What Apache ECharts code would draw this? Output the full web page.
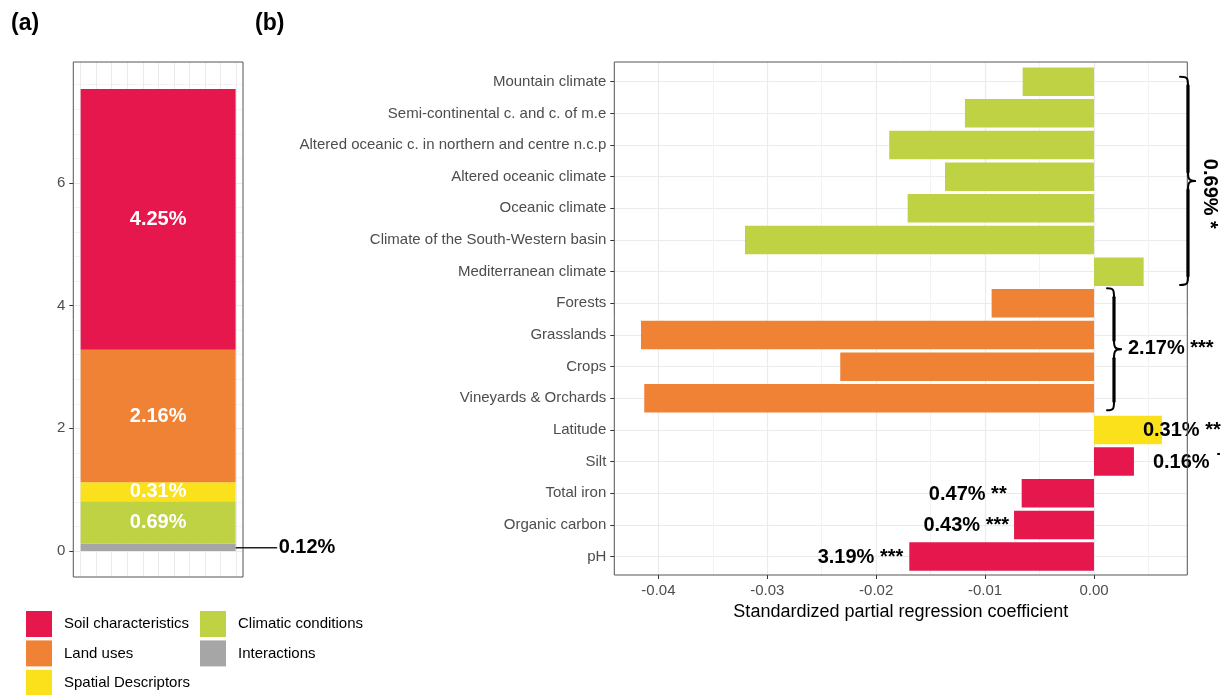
<!DOCTYPE html>
<html><head><meta charset="utf-8">
<script src="https://cdn.jsdelivr.net/npm/echarts@6/dist/echarts.min.js"></script>
<style>html,body{margin:0;padding:0;background:#fff}#c{width:1226px;height:695px}</style>
</head><body><div id="c"></div>
<script>
// ---------- Panel (a): variance partitioning (stack, bottom to top) ----------
const aGroups = ['Interactions', 'Climatic conditions', 'Spatial Descriptors', 'Land uses', 'Soil characteristics'];
const aValues = [0.12, 0.69, 0.31, 2.16, 4.25];
const aYTicks = [0, 2, 4, 6];

// ---------- Panel (b): standardized partial regression coefficients ----------
const bCats = ['Mountain climate', 'Semi-continental c. and c. of m.e', 'Altered oceanic c. in northern and centre n.c.p',
  'Altered oceanic climate', 'Oceanic climate', 'Climate of the South-Western basin', 'Mediterranean climate',
  'Forests', 'Grasslands', 'Crops', 'Vineyards & Orchards', 'Latitude', 'Silt', 'Total iron', 'Organic carbon', 'pH'];
const bCoef = [-0.00655, -0.01185, -0.0188, -0.01368, -0.01711, -0.03205, 0.00456,
  -0.0094, -0.0416, -0.0233, -0.0413, 0.00624, 0.00367, -0.00664, -0.00734, -0.01696];
const bGroup = ['Climatic conditions', 'Climatic conditions', 'Climatic conditions', 'Climatic conditions',
  'Climatic conditions', 'Climatic conditions', 'Climatic conditions',
  'Land uses', 'Land uses', 'Land uses', 'Land uses', 'Spatial Descriptors',
  'Soil characteristics', 'Soil characteristics', 'Soil characteristics', 'Soil characteristics'];
const bLabels = ['', '', '', '', '', '', '', '', '', '', '', '0.31% **', '0.16% \u02D9', '0.47% **', '0.43% ***', '3.19% ***'];
const bGroupLabels = [{ from: 0, to: 6, text: '0.69% *' }, { from: 7, to: 10, text: '2.17% ***' }];
const xTicks = [-0.04, -0.03, -0.02, -0.01, 0.00];

// ---------- styling / layout ----------
const colors = {
  'Soil characteristics': '#E6174C', 'Land uses': '#EF8235', 'Spatial Descriptors': '#FBE01C',
  'Climatic conditions': '#BED244', 'Interactions': '#A6A6A6'
};
const FONT = "'Liberation Sans', Arial, Helvetica, sans-serif";
const GRID_C = '#ebebeb', MINOR_C = '#f3f3f3', AX_TXT = '#4d4d4d';
const XMIN = -0.04405, XMAX = 0.00857;
const A = { left: 73.3, top: 62, width: 169.7, zeroY: 551, bottom: 577, unit: 61.35 };
const B = { left: 614.3, top: 62, width: 573, height: 513, firstC: 81.7, lastC: 556.6 };
const band = (B.lastC - B.firstC) / (bCats.length - 1);
// label placement for panel b [position, distance, dx]
const bLabelPlace = { 11: ['right', 5, -24], 12: ['right', 19, 0], 13: ['left', 15, 0], 14: ['left', 5, 0], 15: ['left', 6, 0] };

const chart = echarts.init(document.getElementById('c'), null, { renderer: 'canvas' });
const hiddenVal = (gi, extra) => Object.assign({ type: 'value', gridIndex: gi, show: false,
  axisLine: { show: false, onZero: false }, splitLine: { show: false } }, extra || {});
const legendBase = { orient: 'vertical', top: 611, padding: 0, height: 90, itemWidth: 26, itemHeight: 26, itemGap: 3.4,
  icon: 'rect', selectedMode: false, textStyle: { fontFamily: FONT, fontSize: 15, color: '#000', padding: [0, 0, 0, 7] } };

const option = {
  animation: false,
  backgroundColor: '#fff',
  textStyle: { fontFamily: FONT },
  title: [
    { text: '(a)', left: 11, top: 12, padding: 0, textStyle: { fontFamily: FONT, fontSize: 23, fontWeight: 'bold', color: '#000' } },
    { text: '(b)', left: 255, top: 12, padding: 0, textStyle: { fontFamily: FONT, fontSize: 23, fontWeight: 'bold', color: '#000' } }
  ],
  legend: [
    Object.assign({}, legendBase, { left: 26, data: ['Soil characteristics', 'Land uses', 'Spatial Descriptors'] }),
    Object.assign({}, legendBase, { left: 200, data: ['Climatic conditions', 'Interactions'] })
  ],
  grid: [
    { left: A.left, top: A.top, width: A.width, height: A.zeroY - A.top, outerBoundsMode: 'none' },
    { left: 80.6, top: A.top, width: 155.4, height: A.bottom - A.top, outerBoundsMode: 'none' },
    { left: B.left, top: B.top, width: B.width, height: B.height, outerBoundsMode: 'none' },
    { left: B.left, top: B.top, width: B.width, height: B.height, outerBoundsMode: 'none' },
    { left: B.left, top: B.firstC, width: B.width, height: B.lastC - B.firstC, outerBoundsMode: 'none' },
    { left: B.left, top: B.firstC - band / 2, width: B.width, height: band * bCats.length, outerBoundsMode: 'none' }
  ],
  xAxis: [
    { type: 'category', gridIndex: 0, data: ['all'], show: false, axisLine: { onZero: false } },
    { type: 'value', gridIndex: 1, min: 0, max: 10, interval: 1, axisLine: { show: false, onZero: false }, axisTick: { show: false },
      axisLabel: { show: false }, splitLine: { show: true, lineStyle: { color: GRID_C, width: 1 } } },
    { type: 'value', gridIndex: 2, min: XMIN, max: XMAX, splitNumber: 5,
      axisLine: { show: false, onZero: false },
      axisTick: { show: true, length: 4, lineStyle: { color: '#333' }, customValues: xTicks },
      axisLabel: { show: true, margin: 8, fontFamily: FONT, fontSize: 15, color: AX_TXT, customValues: xTicks,
        showMinLabel: true, showMaxLabel: true,
        formatter: v => (xTicks.some(t => Math.abs(t - v) < 1e-9) ? v.toFixed(2) : '') },
      splitLine: { show: true, lineStyle: { color: GRID_C, width: 1.2 } },
      name: 'Standardized partial regression coefficient', nameLocation: 'middle', nameGap: 27,
      nameTextStyle: { fontFamily: FONT, fontSize: 18, color: '#000' } },
    { type: 'value', gridIndex: 3, min: XMIN + 0.005, max: XMAX + 0.005, splitNumber: 5,
      axisLine: { show: false, onZero: false }, axisTick: { show: false }, axisLabel: { show: false },
      splitLine: { show: true, lineStyle: { color: MINOR_C, width: 1 } } },
    hiddenVal(4, { min: 0, max: 1 }),
    hiddenVal(5, { min: XMIN, max: XMAX })
  ],
  yAxis: [
    { type: 'value', gridIndex: 0, min: 0, max: (A.zeroY - A.top) / A.unit, interval: 2,
      axisLine: { show: false, onZero: false },
      axisTick: { show: true, length: 4, lineStyle: { color: '#333' }, customValues: aYTicks },
      axisLabel: { margin: 8, fontFamily: FONT, fontSize: 15, color: AX_TXT, customValues: aYTicks,
        formatter: v => (aYTicks.indexOf(v) >= 0 ? String(v) : '') },
      splitLine: { show: true, lineStyle: { color: GRID_C, width: 1.2 } },
      minorTick: { show: false },
      minorSplitLine: { show: true, lineStyle: { color: MINOR_C, width: 1 } } },
    hiddenVal(1, { min: 0, max: 1 }),
    hiddenVal(2, { min: 0, max: 1 }),
    hiddenVal(3, { min: 0, max: 1 }),
    { type: 'value', gridIndex: 4, min: 0, max: bCats.length - 1, interval: 1, inverse: true,
      axisLine: { show: false, onZero: false }, axisTick: { show: false }, axisLabel: { show: false },
      splitLine: { show: true, lineStyle: { color: GRID_C, width: 1.2 } } },
    { type: 'category', gridIndex: 5, data: bCats, inverse: true, position: 'left',
      axisLine: { show: false, onZero: false },
      axisTick: { show: true, alignWithLabel: true, length: 4, lineStyle: { color: '#333' } },
      axisLabel: { margin: 8, fontFamily: FONT, fontSize: 15, color: AX_TXT },
      splitLine: { show: false } }
  ],
  series: aGroups.map((g, i) => ({
    type: 'bar', name: g, xAxisIndex: 0, yAxisIndex: 0, stack: 'total', barWidth: 155,
    data: [aValues[i]], itemStyle: { color: colors[g] }, z: 3,
    label: g === 'Interactions'
      ? { show: true, position: 'right', distance: 43, fontFamily: FONT, fontSize: 20, fontWeight: 'bold', color: '#000',
          formatter: p => p.value.toFixed(2) + '%' }
      : { show: true, position: 'inside', fontFamily: FONT, fontSize: 20, fontWeight: 'bold', color: '#fff',
          formatter: p => p.value.toFixed(2) + '%' }
  })).concat([{
    type: 'bar', name: 'coefficients', xAxisIndex: 5, yAxisIndex: 5, barWidth: '90%', z: 3,
    data: bCoef.map((v, i) => {
      const item = { value: v, itemStyle: { color: colors[bGroup[i]] } };
      if (bLabels[i]) {
        const pl = bLabelPlace[i] || ['left', 6, 0];
        item.label = { show: true, position: pl[0], distance: pl[1], offset: [pl[2], 1], formatter: bLabels[i],
          fontFamily: FONT, fontSize: 20, fontWeight: 'bold', color: '#000' };
      }
      return item;
    })
  }])
};
chart.setOption(option);

// ---------- annotations: frames, leader line, braces ----------
function braceElements(x0, xm, xt, top, bottom) {
  const mid = (top + bottom) / 2, r = 9;
  const thin = { fill: 'none', stroke: '#000', lineWidth: 2, lineCap: 'round' };
  const thick = { fill: 'none', stroke: '#000', lineWidth: 3.2, lineCap: 'round' };
  const bz = (x1, y1, c1x, c1y, c2x, c2y, x2, y2) => ({ type: 'bezierCurve', z: 20, style: thin,
    shape: { x1, y1, cpx1: c1x, cpy1: c1y, cpx2: c2x, cpy2: c2y, x2, y2 } });
  const ln = (x1, y1, x2, y2) => ({ type: 'line', z: 20, style: thick, shape: { x1, y1, x2, y2 } });
  return [
    bz(x0, top, xm, top, xm, top + 2, xm, top + r),
    ln(xm, top + r, xm, mid - r),
    bz(xm, mid - r, xm, mid - 2, xm + 1, mid, xt, mid),
    bz(xt, mid, xm + 1, mid, xm, mid + 2, xm, mid + r),
    ln(xm, mid + r, xm, bottom - r),
    bz(xm, bottom - r, xm, bottom - 2, xm, bottom, x0, bottom)
  ];
}
const yOf = i => chart.convertToPixel({ yAxisIndex: 5 }, i);
const interPt = chart.convertToPixel({ xAxisIndex: 0, yAxisIndex: 0 }, [0, aValues[0] / 2]);
const g1 = bGroupLabels[0], g2 = bGroupLabels[1];
const b1Top = yOf(g1.from) - 5, b1Bot = yOf(g1.to) + 13.4;
const b2Top = yOf(g2.from) - 15, b2Bot = yOf(g2.to) + 12;
const graphics = [
  { type: 'rect', shape: { x: A.left, y: A.top, width: A.width, height: A.bottom - A.top }, z: 20,
    style: { fill: 'none', stroke: '#555', lineWidth: 1 } },
  { type: 'rect', shape: { x: B.left, y: B.top, width: B.width, height: B.height }, z: 20,
    style: { fill: 'none', stroke: '#555', lineWidth: 1 } },
  { type: 'line', shape: { x1: interPt[0] + 77.5, y1: interPt[1] + 0.5, x2: interPt[0] + 119, y2: interPt[1] + 0.5 }, z: 20,
    style: { stroke: '#222', lineWidth: 1.6 } },
  { type: 'text', x: 1210, y: (b1Top + b1Bot) / 2 + 13, rotation: -Math.PI / 2, z: 20,
    style: { text: g1.text, fontFamily: FONT, fontSize: 20, fontWeight: 'bold', fill: '#000', align: 'center', verticalAlign: 'middle' } },
  { type: 'text', x: 1128, y: (b2Top + b2Bot) / 2 - 1, z: 20,
    style: { text: g2.text, fontFamily: FONT, fontSize: 20, fontWeight: 'bold', fill: '#000', align: 'left', verticalAlign: 'middle' } }
].concat(braceElements(1180, 1188, 1195, b1Top, b1Bot), braceElements(1107, 1114, 1121, b2Top, b2Bot));
chart.setOption({ graphic: graphics });
</script></body></html>
